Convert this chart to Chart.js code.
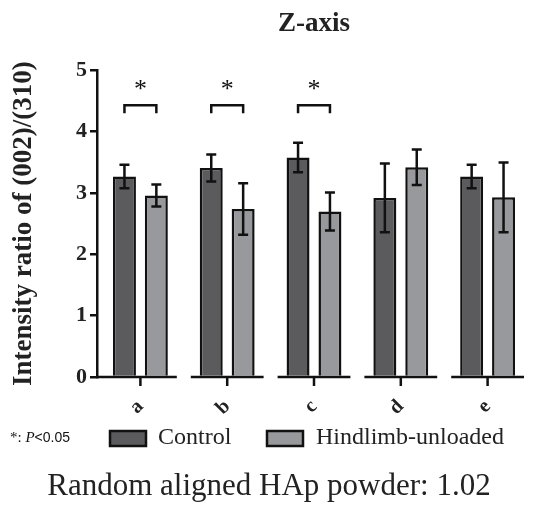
<!DOCTYPE html>
<html>
<head>
<meta charset="utf-8">
<script src="https://cdn.jsdelivr.net/npm/chart.js@4"></script>
<style>
  body { margin: 0; background: #fff; }
  #wrap { width: 553px; height: 505px; position: relative; }
</style>
</head>
<body>
<div id="wrap"><canvas id="chart" width="553" height="505"></canvas></div>
<script>
// данные
const groups = ['a', 'b', 'c', 'd', 'e'];
const controlMean = [3.27, 3.41, 3.58, 2.92, 3.27];
const controlSd = [0.19, 0.22, 0.24, 0.56, 0.19];
const unloadedMean = [2.96, 2.74, 2.70, 3.42, 2.93];
const unloadedSd = [0.18, 0.42, 0.31, 0.29, 0.57];
const significant = [true, true, true, false, false];
const yTicks = [0, 1, 2, 3, 4, 5];

const serif = '"Liberation Serif", "Times New Roman", serif';

// усы, скобки, разорванная ось X, легенда и подписи
const extrasPlugin = {
    id: 'extras',
    afterDatasetsDraw(chart) {
        const ctx = chart.ctx;
        const x = chart.scales.x, y = chart.scales.y;
        const area = chart.chartArea;
        ctx.save();
        ctx.strokeStyle = '#111';
        ctx.lineWidth = 2.5;
        ctx.lineCap = 'butt';

        // error bars
        const sds = [controlSd, unloadedSd];
        chart.data.datasets.forEach((ds, di) => {
            chart.getDatasetMeta(di).data.forEach((bar, i) => {
                const top = y.getPixelForValue(ds.data[i] + sds[di][i]);
                const bot = y.getPixelForValue(ds.data[i] - sds[di][i]);
                ctx.beginPath();
                ctx.moveTo(bar.x, top); ctx.lineTo(bar.x, bot);
                ctx.moveTo(bar.x - 5, top); ctx.lineTo(bar.x + 5, top);
                ctx.moveTo(bar.x - 5, bot); ctx.lineTo(bar.x + 5, bot);
                ctx.stroke();
            });
        });

        // significance brackets
        const m0 = chart.getDatasetMeta(0).data, m1 = chart.getDatasetMeta(1).data;
        ctx.fillStyle = '#111';
        ctx.font = '26px ' + serif;
        ctx.textAlign = 'center';
        ctx.textBaseline = 'middle';
        significant.forEach((s, i) => {
            if (!s) return;
            const x0 = m0[i].x, x1 = m1[i].x;
            const yb = y.getPixelForValue(4.43), yl = y.getPixelForValue(4.30);
            ctx.beginPath();
            ctx.moveTo(x0, yl); ctx.lineTo(x0, yb); ctx.lineTo(x1, yb); ctx.lineTo(x1, yl);
            ctx.stroke();
            ctx.fillText('*', (x0 + x1) / 2, y.getPixelForValue(4.68));
        });

        // broken x axis
        const half = (x.getPixelForValue(1) - x.getPixelForValue(0)) / 2 - 7;
        groups.forEach((g, i) => {
            const c = x.getPixelForValue(i);
            const l = i === 0 ? area.left - 1 : c - half;
            ctx.beginPath();
            ctx.moveTo(l, area.bottom); ctx.lineTo(c + half, area.bottom);
            ctx.moveTo(c, area.bottom); ctx.lineTo(c, area.bottom + 9);
            ctx.stroke();
        });

        // legend
        const ly = 438;
        ctx.textAlign = 'left';
        ctx.font = '15px ' + serif;
        ctx.fillText('*: ', 10, ly);
        let px = 10 + ctx.measureText('*: ').width;
        ctx.font = 'italic 15px ' + serif;
        ctx.fillText('P', px, ly);
        px += ctx.measureText('P').width;
        ctx.font = '14px "Liberation Sans", Arial, sans-serif';
        ctx.fillText('<0.05', px, ly);

        const items = [[110, 158], [267, 316]];
        chart.data.datasets.forEach((ds, di) => {
            const [bx, tx] = items[di];
            ctx.fillStyle = ds.backgroundColor;
            ctx.fillRect(bx, ly - 7, 36, 15);
            ctx.strokeRect(bx, ly - 7, 36, 15);
            ctx.fillStyle = '#222';
            ctx.font = '24px ' + serif;
            ctx.fillText(ds.label, tx, ly);
        });

        ctx.textAlign = 'center';
        ctx.font = '31px ' + serif;
        ctx.fillText('Random aligned HAp powder: 1.02', 269, 487);
        ctx.restore();
    }
};

new Chart(document.getElementById('chart'), {
    type: 'bar',
    data: {
        labels: groups,
        datasets: [
            { label: 'Control', data: controlMean, backgroundColor: '#5b5b5e', borderColor: '#111', borderWidth: 2.5, borderSkipped: 'bottom' },
            { label: 'Hindlimb-unloaded', data: unloadedMean, backgroundColor: '#98999c', borderColor: '#111', borderWidth: 2.5, borderSkipped: 'bottom' }
        ]
    },
    options: {
        responsive: false,
        animation: false,
        layout: { padding: { left: 0, right: 22, bottom: 0, top: 0 } },
        categoryPercentage: 0.735,
        barPercentage: 0.72,
        plugins: {
            legend: { display: false },
            tooltip: { enabled: false },
            title: {
                display: true, text: 'Z-axis', fullSize: false, color: '#222',
                font: { family: serif, size: 27, weight: 'bold' },
                padding: { top: 8, bottom: 30 }
            }
        },
        scales: {
            x: {
                border: { display: false },
                grid: { display: false },
                ticks: {
                    color: '#222', minRotation: 45, maxRotation: 45, padding: 10,
                    font: { family: serif, size: 20, weight: 'bold' }
                },
                afterFit: s => { s.height = 128; }
            },
            y: {
                min: 0, max: 5,
                afterBuildTicks: s => { s.ticks = yTicks.map(v => ({ value: v })); },
                border: { color: '#111', width: 2.5 },
                grid: { drawOnChartArea: false, color: '#111', lineWidth: 2.5, tickLength: 7 },
                ticks: { color: '#222', padding: 3, font: { family: serif, size: 22, weight: 'bold' } },
                title: {
                    display: true, text: 'Intensity ratio of (002)/(310)', color: '#222',
                    font: { family: serif, size: 27, weight: 'bold' },
                    padding: { top: 8, bottom: 0 }
                },
                afterFit: s => { s.width = 97; }
            }
        }
    },
    plugins: [extrasPlugin]
});
</script>
</body>
</html>
